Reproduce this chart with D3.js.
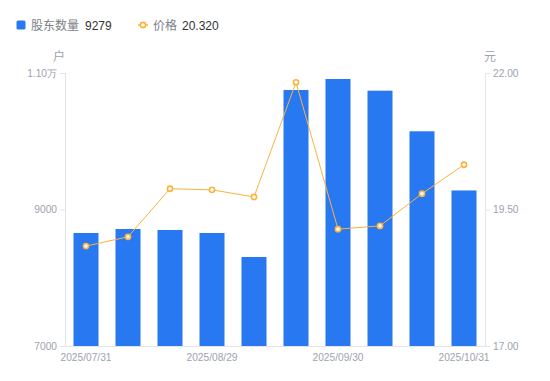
<!DOCTYPE html>
<html><head><meta charset="utf-8">
<script src="https://cdn.jsdelivr.net/npm/d3@7/dist/d3.min.js"></script>
<style>body{margin:0;background:#fff;}svg{display:block;font-family:"Noto Sans CJK SC","Noto Sans",sans-serif;}</style>
</head><body><svg id="c" width="550" height="381"></svg>
<script>
const dates = ["2025/07/31","2025/08/08","2025/08/20","2025/08/29","2025/09/10","2025/09/19","2025/09/30","2025/10/10","2025/10/20","2025/10/31"];
const holders = [8656, 8714, 8700, 8656, 8304, 10751, 10912, 10741, 10146, 9279];
const prices = [18.83, 19.00, 19.88, 19.86, 19.73, 21.83, 19.14, 19.20, 19.79, 20.32];
const leftTicks = [7000, 9000, 11000];
const rightTicks = [17, 19.5, 22];
const shownDates = ["2025/07/31","2025/08/29","2025/09/30","2025/10/31"];

const svg = d3.select("#c");
const L = 65, R = 485, T = 73, B = 346;
const x = d3.scaleBand().domain(dates).range([L, R]).paddingInner(0).paddingOuter(0);
const yL = d3.scaleLinear().domain([7000, 11000]).range([B, T]);
const yR = d3.scaleLinear().domain([17, 22]).range([B, T]);
const axisCol = "#e3e4e8", txtCol = "#9ea2ad";
const numFont = '"Liberation Sans", Arial, sans-serif';

// left axis
const gl = svg.append("g").attr("transform", `translate(${L},0)`)
  .call(d3.axisLeft(yL).tickValues(leftTicks).tickSize(5).tickPadding(3)
    .tickFormat(d => d >= 10000 ? (d/10000).toFixed(2) + "万" : d));
gl.select(".domain").attr("stroke", axisCol);
gl.selectAll(".tick line").attr("stroke", axisCol);
gl.selectAll(".tick text").attr("fill", txtCol).attr("font-size", 10.2).attr("font-family", numFont);

// right axis
const gr = svg.append("g").attr("transform", `translate(${R},0)`)
  .call(d3.axisRight(yR).tickValues(rightTicks).tickSize(5).tickPadding(3)
    .tickFormat(d3.format(".2f")));
gr.select(".domain").attr("stroke", axisCol);
gr.selectAll(".tick line").attr("stroke", axisCol);
gr.selectAll(".tick text").attr("fill", txtCol).attr("font-size", 10.2).attr("font-family", numFont);

// bottom axis
const gb = svg.append("g").attr("transform", `translate(0,${B})`)
  .call(d3.axisBottom(x).tickValues(shownDates).tickSize(0).tickPadding(8));
gb.select(".domain").attr("stroke", axisCol);
gb.selectAll(".tick text").attr("fill", txtCol).attr("font-size", 10.2).attr("font-family", numFont);

// unit labels
svg.append("text").attr("x", 59).attr("y", 61).attr("text-anchor", "middle")
  .attr("fill", txtCol).attr("font-size", 12).text("户");
svg.append("text").attr("x", 490).attr("y", 61).attr("text-anchor", "middle")
  .attr("fill", txtCol).attr("font-size", 12).text("元");

// bars
const bw = 25;
svg.append("g").selectAll("rect").data(dates).join("rect")
  .attr("x", d => x(d) + x.bandwidth()/2 - bw/2)
  .attr("width", bw)
  .attr("y", (d,i) => yL(holders[i]))
  .attr("height", (d,i) => B - yL(holders[i]))
  .attr("fill", "#2878f2");

// line
const pts = dates.map((d,i) => [x(d) + x.bandwidth()/2, yR(prices[i])]);
svg.append("path").attr("d", d3.line()(pts)).attr("fill", "none")
  .attr("stroke", "#fbb33c").attr("stroke-width", 1);
svg.append("g").selectAll("circle").data(pts).join("circle")
  .attr("cx", d => d[0]).attr("cy", d => d[1]).attr("r", 2.6)
  .attr("fill", "#fff").attr("stroke", "#fbb33c").attr("stroke-width", 1.6);

// legend
const lg = svg.append("g");
lg.append("rect").attr("x", 16.5).attr("y", 20.5).attr("width", 9).attr("height", 9).attr("rx", 1.5).attr("fill", "#2878f2");
lg.append("text").attr("x", 31).attr("y", 29.5).attr("fill", "#7c7f88").attr("font-size", 12).text("股东数量");
lg.append("text").attr("x", 85).attr("y", 29.5).attr("fill", "#333").attr("font-size", 12).attr("font-family", numFont).text(holders[holders.length-1]);
lg.append("line").attr("x1", 138).attr("x2", 148).attr("y1", 25).attr("y2", 25).attr("stroke", "#fbb33c").attr("stroke-width", 1.5);
lg.append("circle").attr("cx", 143).attr("cy", 25).attr("r", 2.6).attr("fill", "#fff").attr("stroke", "#fbb33c").attr("stroke-width", 1.6);
lg.append("text").attr("x", 153).attr("y", 29.5).attr("fill", "#7c7f88").attr("font-size", 12).text("价格");
lg.append("text").attr("x", 182).attr("y", 29.5).attr("fill", "#333").attr("font-size", 12).attr("font-family", numFont).text(prices[prices.length-1].toFixed(3));
</script></body></html>
